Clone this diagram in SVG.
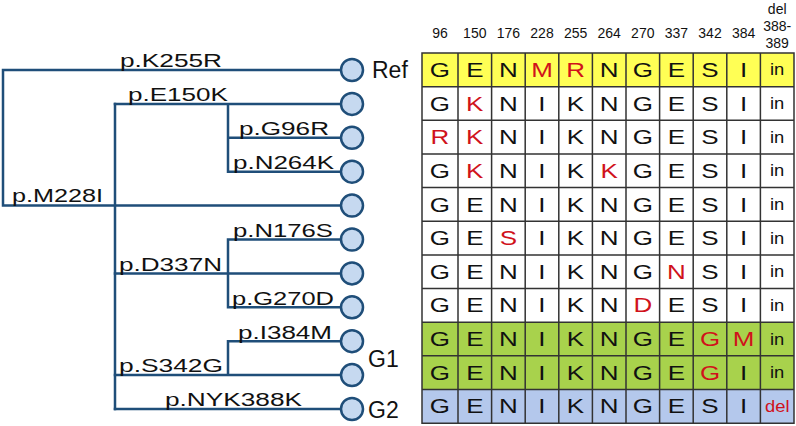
<svg xmlns="http://www.w3.org/2000/svg" width="796" height="426" viewBox="0 0 796 426">
<style>
.e{fill:none;stroke:#1f4e79;stroke-width:2.5;stroke-linecap:square}
.n circle{fill:#c6d9f0;stroke:#1f4e79;stroke-width:2.5}
.lb{font-family:"Liberation Sans",Arial,sans-serif;font-size:17.5px;fill:#111}
.tg{font-family:"Liberation Sans",Arial,sans-serif;font-size:23px;fill:#111}
.hd{font-family:"Liberation Sans",Arial,sans-serif;font-size:14px;fill:#111;text-anchor:middle}
.c{font-family:"Liberation Sans",Arial,sans-serif;font-size:20px;fill:#111;text-anchor:middle;transform-box:fill-box;transform-origin:center;transform:scaleX(1.3)}
.s{font-family:"Liberation Sans",Arial,sans-serif;font-size:16px;fill:#111;text-anchor:middle;transform-box:fill-box;transform-origin:center;transform:scaleX(1.15)}
.r{fill:#d0121b}
.grid{fill:none;stroke:#333;stroke-width:1.5}
</style>
<g id="connectors">
<path class="e" d="M3 70 H341 M3 70 V205.6 H341"/>
<path class="e" d="M115 103.9 V409"/>
<path class="e" d="M115 103.9 H341 M228 103.9 V171.7 M228 137.8 H341 M228 171.7 H341"/>
<path class="e" d="M115 273.4 H341 M228 239.5 V307.3 M228 239.5 H341 M228 307.3 H341"/>
<path class="e" d="M115 375.1 H341 M228 341.2 V375.1 M228 341.2 H341"/>
<path class="e" d="M115 409 H341"/>
</g>
<g id="edge-labels">
<text class="lb" x="120" y="67" textLength="102" lengthAdjust="spacingAndGlyphs">p.K255R</text>
<text class="lb" x="128" y="101" textLength="100" lengthAdjust="spacingAndGlyphs">p.E150K</text>
<text class="lb" x="239" y="135" textLength="90" lengthAdjust="spacingAndGlyphs">p.G96R</text>
<text class="lb" x="233" y="169" textLength="101" lengthAdjust="spacingAndGlyphs">p.N264K</text>
<text class="lb" x="12" y="202" textLength="91" lengthAdjust="spacingAndGlyphs">p.M228I</text>
<text class="lb" x="233" y="237" textLength="100" lengthAdjust="spacingAndGlyphs">p.N176S</text>
<text class="lb" x="119" y="271" textLength="103" lengthAdjust="spacingAndGlyphs">p.D337N</text>
<text class="lb" x="232" y="305" textLength="102" lengthAdjust="spacingAndGlyphs">p.G270D</text>
<text class="lb" x="238" y="339" textLength="94" lengthAdjust="spacingAndGlyphs">p.I384M</text>
<text class="lb" x="119" y="372" textLength="104" lengthAdjust="spacingAndGlyphs">p.S342G</text>
<text class="lb" x="165" y="406" textLength="137" lengthAdjust="spacingAndGlyphs">p.NYK388K</text>
</g>
<g id="node-ref" class="n"><circle cx="352" cy="70" r="11"/><text class="tg" x="372" y="77.5">Ref</text></g>
<g id="node-2" class="n"><circle cx="352" cy="103.9" r="11"/></g>
<g id="node-3" class="n"><circle cx="352" cy="137.8" r="11"/></g>
<g id="node-4" class="n"><circle cx="352" cy="171.7" r="11"/></g>
<g id="node-5" class="n"><circle cx="352" cy="205.6" r="11"/></g>
<g id="node-6" class="n"><circle cx="352" cy="239.5" r="11"/></g>
<g id="node-7" class="n"><circle cx="352" cy="273.4" r="11"/></g>
<g id="node-8" class="n"><circle cx="352" cy="307.3" r="11"/></g>
<g id="node-9" class="n"><circle cx="352" cy="341.2" r="11"/></g>
<g id="node-10" class="n"><circle cx="352" cy="375.1" r="11"/></g>
<g id="node-11" class="n"><circle cx="352" cy="409" r="11"/><text class="tg" x="368" y="418">G2</text></g>
<text class="tg" x="368" y="366.7">G1</text>

<g id="table">
<rect x="422" y="53" width="372" height="33.65" fill="#ffff55"/>
<rect x="422" y="322.2" width="372" height="67.3" fill="#a8d24c"/>
<rect x="422" y="389.5" width="372" height="33.65" fill="#b4c8ec"/>
<path class="grid" d="M422 53 H794 V423.15 H422 Z M422 86.65 H794 M422 120.3 H794 M422 153.95 H794 M422 187.6 H794 M422 221.25 H794 M422 254.9 H794 M422 288.55 H794 M422 322.2 H794 M422 355.85 H794 M422 389.5 H794 M458 53 V423.15 M491.6 53 V423.15 M525.2 53 V423.15 M558.8 53 V423.15 M592.4 53 V423.15 M626 53 V423.15 M659.6 53 V423.15 M693.2 53 V423.15 M726.8 53 V423.15 M760.4 53 V423.15"/>
<g id="header">
<text class="hd" x="440" y="37.5">96</text>
<text class="hd" x="474.8" y="37.5">150</text>
<text class="hd" x="508.4" y="37.5">176</text>
<text class="hd" x="542" y="37.5">228</text>
<text class="hd" x="575.6" y="37.5">255</text>
<text class="hd" x="609.2" y="37.5">264</text>
<text class="hd" x="642.8" y="37.5">270</text>
<text class="hd" x="676.4" y="37.5">337</text>
<text class="hd" x="710" y="37.5">342</text>
<text class="hd" x="743.6" y="37.5">384</text>
<text class="hd" x="777.2" y="14">del</text>
<text class="hd" x="777.2" y="31">388-</text>
<text class="hd" x="777.2" y="47.5">389</text>
</g>
<g id="row1">
<text class="c" x="440" y="77">G</text><text class="c" x="474.8" y="77">E</text><text class="c" x="508.4" y="77">N</text><text class="c r" x="542" y="77">M</text><text class="c r" x="575.6" y="77">R</text><text class="c" x="609.2" y="77">N</text><text class="c" x="642.8" y="77">G</text><text class="c" x="676.4" y="77">E</text><text class="c" x="710" y="77">S</text><text class="c" x="743.6" y="77">I</text><text class="s" x="777.2" y="75.5">in</text>
</g>
<g id="row2">
<text class="c" x="440" y="110.6">G</text><text class="c r" x="474.8" y="110.6">K</text><text class="c" x="508.4" y="110.6">N</text><text class="c" x="542" y="110.6">I</text><text class="c" x="575.6" y="110.6">K</text><text class="c" x="609.2" y="110.6">N</text><text class="c" x="642.8" y="110.6">G</text><text class="c" x="676.4" y="110.6">E</text><text class="c" x="710" y="110.6">S</text><text class="c" x="743.6" y="110.6">I</text><text class="s" x="777.2" y="109.1">in</text>
</g>
<g id="row3">
<text class="c r" x="440" y="144.3">R</text><text class="c r" x="474.8" y="144.3">K</text><text class="c" x="508.4" y="144.3">N</text><text class="c" x="542" y="144.3">I</text><text class="c" x="575.6" y="144.3">K</text><text class="c" x="609.2" y="144.3">N</text><text class="c" x="642.8" y="144.3">G</text><text class="c" x="676.4" y="144.3">E</text><text class="c" x="710" y="144.3">S</text><text class="c" x="743.6" y="144.3">I</text><text class="s" x="777.2" y="142.8">in</text>
</g>
<g id="row4">
<text class="c" x="440" y="177.9">G</text><text class="c r" x="474.8" y="177.9">K</text><text class="c" x="508.4" y="177.9">N</text><text class="c" x="542" y="177.9">I</text><text class="c" x="575.6" y="177.9">K</text><text class="c r" x="609.2" y="177.9">K</text><text class="c" x="642.8" y="177.9">G</text><text class="c" x="676.4" y="177.9">E</text><text class="c" x="710" y="177.9">S</text><text class="c" x="743.6" y="177.9">I</text><text class="s" x="777.2" y="176.4">in</text>
</g>
<g id="row5">
<text class="c" x="440" y="211.6">G</text><text class="c" x="474.8" y="211.6">E</text><text class="c" x="508.4" y="211.6">N</text><text class="c" x="542" y="211.6">I</text><text class="c" x="575.6" y="211.6">K</text><text class="c" x="609.2" y="211.6">N</text><text class="c" x="642.8" y="211.6">G</text><text class="c" x="676.4" y="211.6">E</text><text class="c" x="710" y="211.6">S</text><text class="c" x="743.6" y="211.6">I</text><text class="s" x="777.2" y="210.1">in</text>
</g>
<g id="row6">
<text class="c" x="440" y="245.2">G</text><text class="c" x="474.8" y="245.2">E</text><text class="c r" x="508.4" y="245.2">S</text><text class="c" x="542" y="245.2">I</text><text class="c" x="575.6" y="245.2">K</text><text class="c" x="609.2" y="245.2">N</text><text class="c" x="642.8" y="245.2">G</text><text class="c" x="676.4" y="245.2">E</text><text class="c" x="710" y="245.2">S</text><text class="c" x="743.6" y="245.2">I</text><text class="s" x="777.2" y="243.7">in</text>
</g>
<g id="row7">
<text class="c" x="440" y="278.9">G</text><text class="c" x="474.8" y="278.9">E</text><text class="c" x="508.4" y="278.9">N</text><text class="c" x="542" y="278.9">I</text><text class="c" x="575.6" y="278.9">K</text><text class="c" x="609.2" y="278.9">N</text><text class="c" x="642.8" y="278.9">G</text><text class="c r" x="676.4" y="278.9">N</text><text class="c" x="710" y="278.9">S</text><text class="c" x="743.6" y="278.9">I</text><text class="s" x="777.2" y="277.4">in</text>
</g>
<g id="row8">
<text class="c" x="440" y="312.5">G</text><text class="c" x="474.8" y="312.5">E</text><text class="c" x="508.4" y="312.5">N</text><text class="c" x="542" y="312.5">I</text><text class="c" x="575.6" y="312.5">K</text><text class="c" x="609.2" y="312.5">N</text><text class="c r" x="642.8" y="312.5">D</text><text class="c" x="676.4" y="312.5">E</text><text class="c" x="710" y="312.5">S</text><text class="c" x="743.6" y="312.5">I</text><text class="s" x="777.2" y="311">in</text>
</g>
<g id="row9">
<text class="c" x="440" y="346.2">G</text><text class="c" x="474.8" y="346.2">E</text><text class="c" x="508.4" y="346.2">N</text><text class="c" x="542" y="346.2">I</text><text class="c" x="575.6" y="346.2">K</text><text class="c" x="609.2" y="346.2">N</text><text class="c" x="642.8" y="346.2">G</text><text class="c" x="676.4" y="346.2">E</text><text class="c r" x="710" y="346.2">G</text><text class="c r" x="743.6" y="346.2">M</text><text class="s" x="777.2" y="344.7">in</text>
</g>
<g id="row10">
<text class="c" x="440" y="379.8">G</text><text class="c" x="474.8" y="379.8">E</text><text class="c" x="508.4" y="379.8">N</text><text class="c" x="542" y="379.8">I</text><text class="c" x="575.6" y="379.8">K</text><text class="c" x="609.2" y="379.8">N</text><text class="c" x="642.8" y="379.8">G</text><text class="c" x="676.4" y="379.8">E</text><text class="c r" x="710" y="379.8">G</text><text class="c" x="743.6" y="379.8">I</text><text class="s" x="777.2" y="378.3">in</text>
</g>
<g id="row11">
<text class="c" x="440" y="413.5">G</text><text class="c" x="474.8" y="413.5">E</text><text class="c" x="508.4" y="413.5">N</text><text class="c" x="542" y="413.5">I</text><text class="c" x="575.6" y="413.5">K</text><text class="c" x="609.2" y="413.5">N</text><text class="c" x="642.8" y="413.5">G</text><text class="c" x="676.4" y="413.5">E</text><text class="c" x="710" y="413.5">S</text><text class="c" x="743.6" y="413.5">I</text><text class="s r" x="777.2" y="412">del</text>
</g>
</g>
</svg>
